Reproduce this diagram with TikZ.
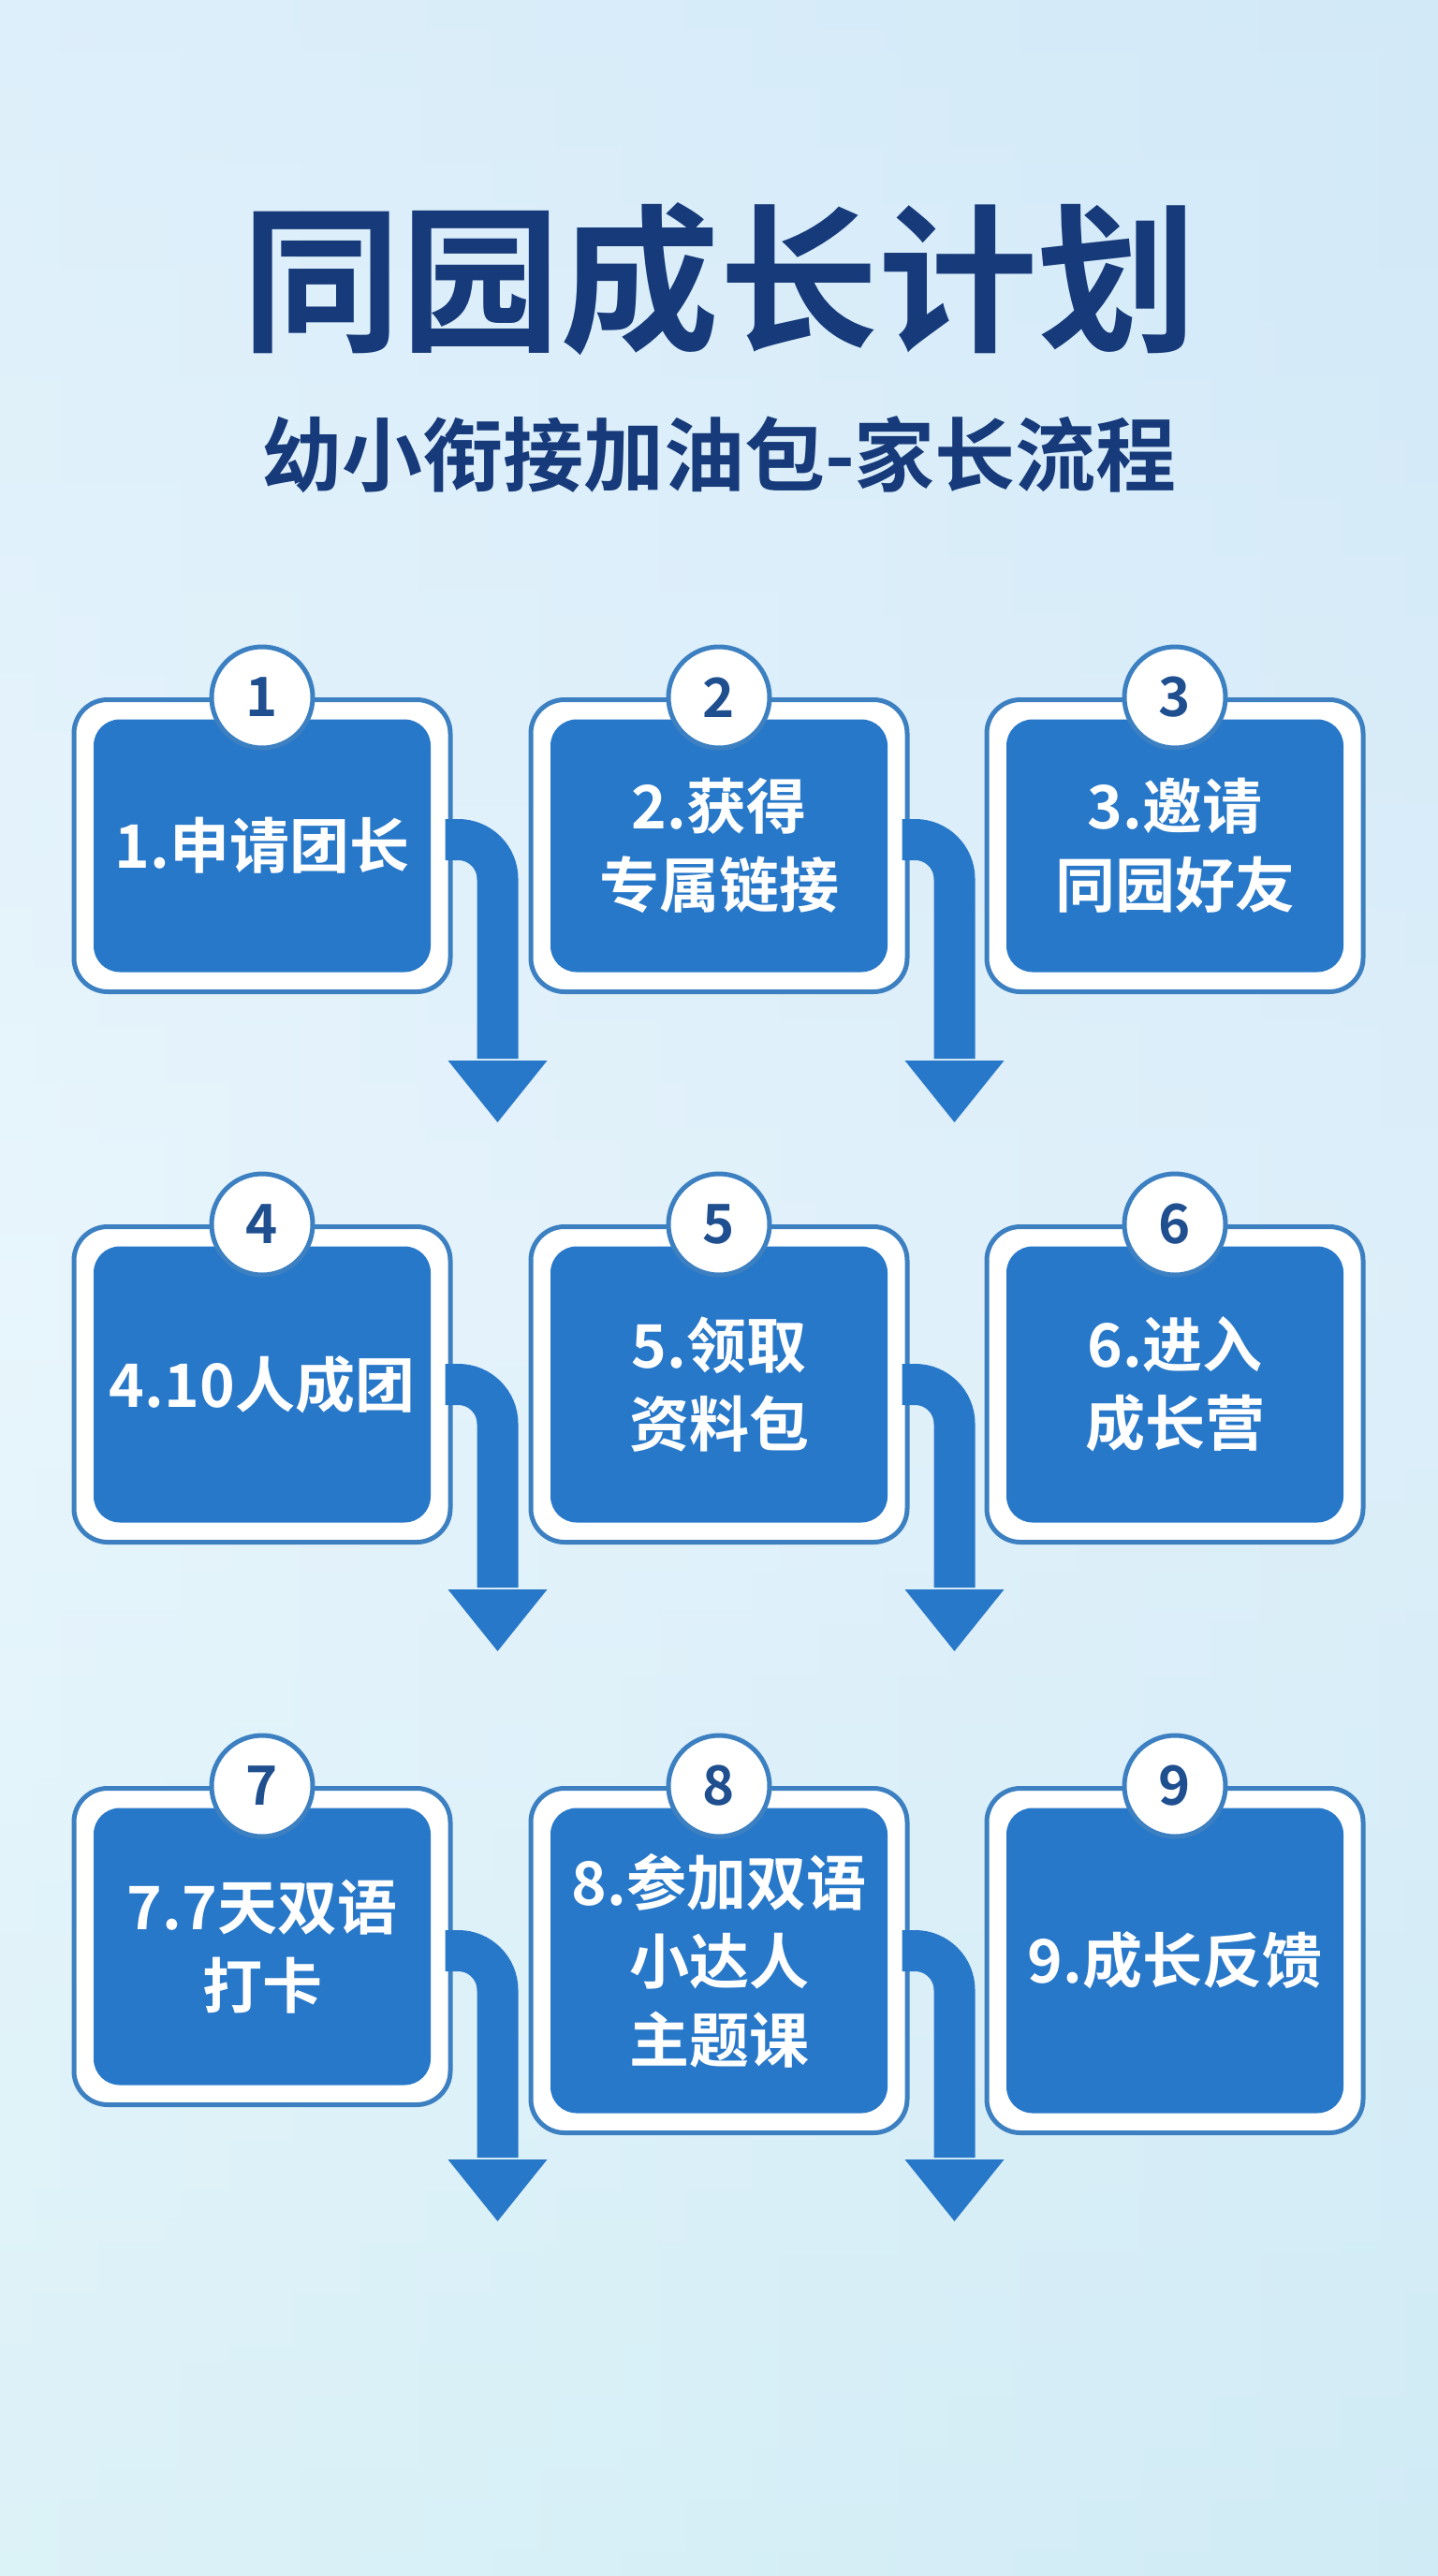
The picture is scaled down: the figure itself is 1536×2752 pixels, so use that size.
\documentclass[tikz,border=0pt]{standalone}
\usepackage{fontspec}
\newfontfamily\cjk{Noto Sans CJK SC Bold}
\usetikzlibrary{shapes.geometric}
\definecolor{bgA}{HTML}{D2E9F8}
\definecolor{bgB}{HTML}{E8F5FC}
\definecolor{bgC}{HTML}{CFEFF3}
\definecolor{navy}{HTML}{173B7A}
\definecolor{boxblue}{HTML}{2878C9}
\definecolor{rimblue}{HTML}{3C80C2}
\definecolor{numblue}{HTML}{1F4F8F}
\tikzset{
  outerbox/.style={draw=rimblue,line width=5pt,fill=white,rounded corners=36pt,inner sep=0pt},
  innerbox/.style={fill=boxblue,rounded corners=28pt,inner sep=0pt},
  boxtext/.style={text=white,font=\cjk\fontsize{64}{84}\selectfont,align=center},
  numcirc/.style={circle,draw=rimblue,line width=5pt,fill=white,minimum size=108pt,inner sep=0pt,text=numblue,font=\cjk\fontsize{58}{58}\selectfont},
  flow/.style={draw=boxblue,line width=44pt,rounded corners=42pt},
  flowhead/.style={fill=boxblue},
}
% name, cx, top, height, num, text
\newcommand\stepbox[6]{%
  \node[outerbox,minimum width=402pt,minimum height=#4pt,anchor=north] (b#1) at (#2,#3) {};
  \node[innerbox,minimum width=360pt,minimum height=#4pt-42pt] (i#1) at (b#1.center) {};
  \node[boxtext] (t#1) at (b#1.center) {#6};
  \node[numcirc] (n#1) at (b#1.north) {#5};
}
% box name, offset of band centre from top, tip offset
\newcommand\flowarrow[3]{%
  \coordinate (s#1) at ([xshift=-8pt,yshift=-#2pt]b#1.north east);
  \coordinate (k#1) at ([xshift=48pt,yshift=-#2pt]b#1.north east);
  \coordinate (e#1) at ([xshift=48pt,yshift=-#3pt+66pt]b#1.north east);
  \coordinate (p#1) at ([xshift=48pt,yshift=-#3pt]b#1.north east);
  \draw[flow] (s#1) -- (k#1) -- ([yshift=2pt]e#1);
  \fill[flowhead] ([xshift=-53pt]e#1) -- ([xshift=53pt]e#1) -- (p#1) -- cycle;
}
\begin{document}
\begin{tikzpicture}[x=1pt,y=-1pt]
\useasboundingbox (0,0) rectangle (1536,2752);
\shade[top color=bgA,bottom color=bgC,middle color=bgB] (0,0) rectangle (1536,2752);
\shade[left color=bgB,right color=bgA,opacity=0.5] (0,0) rectangle (1536,2752);
\node[text=navy,font=\cjk\fontsize{170}{170}\selectfont] (title) at (768,298) {同园成长计划};
\node[text=navy,font=\cjk\fontsize{86}{86}\selectfont] (sub) at (768,486) {幼小衔接加油包-家长流程};
\stepbox{1}{280}{745}{312}{1}{1.申请团长}
\stepbox{2}{768}{745}{312}{2}{2.获得\\专属链接}
\stepbox{3}{1255}{745}{312}{3}{3.邀请\\同园好友}
\stepbox{4}{280}{1308}{337}{4}{4.10人成团}
\stepbox{5}{768}{1308}{337}{5}{5.领取\\资料包}
\stepbox{6}{1255}{1308}{337}{6}{6.进入\\成长营}
\stepbox{7}{280}{1908}{338}{7}{7.7天双语\\打卡}
\stepbox{8}{768}{1908}{368}{8}{8.参加双语\\小达人\\主题课}
\stepbox{9}{1255}{1908}{368}{9}{9.成长反馈}
\flowarrow{1}{152}{454}
\flowarrow{2}{152}{454}
\flowarrow{4}{171}{456}
\flowarrow{5}{171}{456}
\flowarrow{7}{176}{465}
\flowarrow{8}{176}{465}
\end{tikzpicture}
\end{document}
